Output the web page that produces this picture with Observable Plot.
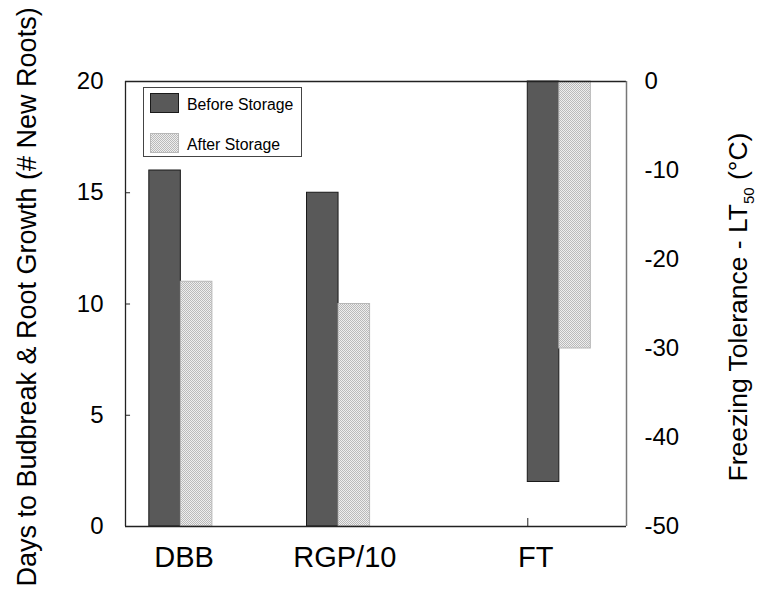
<!DOCTYPE html>
<html><head><meta charset="utf-8">
<script src="https://cdn.jsdelivr.net/npm/d3@7"></script>
<script src="https://cdn.jsdelivr.net/npm/@observablehq/plot@0.6"></script>
<style>body{margin:0;background:#fff;} svg{font-family:"Liberation Sans",Arial,sans-serif;}</style>
</head><body><div id="chart"></div>
<script>
const categories = ["DBB", "RGP/10", "FT"];
const groupPos = [1, 2, 3.4];          // group centres along x
const labelPos = [1.02, 2.04, 3.25];   // category label positions
const ftTickPos = [3.2];               // the single bottom tick
const series = ["Before Storage", "After Storage"];
const beforeVals = [16, 15, null];     // left axis (days / roots/10)
const afterVals = [11, 10, null];
const ftBefore = -45;                  // right axis LT50 (°C)
const ftAfter = -30;
const leftTicks = [0, 5, 10, 15, 20];
const rightTicks = [0, -10, -20, -30, -40, -50];

const xMin = 0.649, xMax = 3.826;
const toLeft = t => (t + 50) * 20 / 50;
const bw = 0.2;
const before = [], after = [];
categories.forEach((c, i) => {
  if (c === "FT") {
    before.push({x1: groupPos[i] - bw, x2: groupPos[i], y1: toLeft(ftBefore), y2: 20});
    after.push({x1: groupPos[i], x2: groupPos[i] + bw, y1: toLeft(ftAfter), y2: 20});
  } else {
    before.push({x1: groupPos[i] - bw, x2: groupPos[i], y1: 0, y2: beforeVals[i]});
    after.push({x1: groupPos[i], x2: groupPos[i] + bw, y1: 0, y2: afterVals[i]});
  }
});

const plot = Plot.plot({
  width: 757, height: 592,
  marginLeft: 125, marginRight: 131, marginTop: 81, marginBottom: 66,
  x: {domain: [xMin, xMax], axis: null},
  y: {domain: [0, 20], axis: null},
  marks: [
    Plot.rect(before, {x1: "x1", x2: "x2", y1: "y1", y2: "y2", fill: "#595959", stroke: "#1a1a1a", strokeWidth: 1}),
    Plot.rect(after, {x1: "x1", x2: "x2", y1: "y1", y2: "y2", fill: "#d5d5d5", stroke: "#b8b8b8", strokeWidth: 1, className: "after-bars"}),
    // frame
    Plot.ruleY([0], {stroke: "#222", strokeWidth: 1.3}),
    Plot.ruleY([20], {stroke: "#222", strokeWidth: 1.3}),
    Plot.ruleX([xMin], {stroke: "#222", strokeWidth: 1.3}),
    Plot.ruleX([xMax], {stroke: "#777", strokeWidth: 1.5}),
    // left ticks (inward)
    Plot.ruleY(leftTicks, {x1: xMin, x2: xMin + 0.032, stroke: "#222", strokeWidth: 1}),
    Plot.axisY({ticks: leftTicks, tickSize: 0, tickPadding: 22, fontSize: 24, anchor: "left", label: null}),
    // right axis
    Plot.axisY({ticks: rightTicks.map(toLeft), tickFormat: d => String(Math.round(d * 2.5 - 50)),
      anchor: "right", tickSize: 0, tickPadding: 18, fontSize: 24, label: null}),
    // bottom tick at FT
    Plot.ruleX(ftTickPos, {y1: 0, y2: 0.36, stroke: "#222", strokeWidth: 1}),
    // category labels
    Plot.text(categories, {x: (d, i) => labelPos[i], y: 0, dy: 31, fontSize: 29, fill: "#000", text: d => d}),
  ]
});

const svg = d3.select(plot);
svg.style("overflow", "visible");
const defs = svg.insert("defs", ":first-child");
const pat = defs.append("pattern").attr("id", "chk").attr("width", 2).attr("height", 2)
  .attr("patternUnits", "userSpaceOnUse");
pat.append("rect").attr("width", 2).attr("height", 2).attr("fill", "#eeeeee");
pat.append("rect").attr("width", 1).attr("height", 1).attr("fill", "#bababa");
pat.append("rect").attr("x", 1).attr("y", 1).attr("width", 1).attr("height", 1).attr("fill", "#bababa");
svg.selectAll(".after-bars").attr("fill", "url(#chk)");
svg.selectAll(".after-bars rect").attr("fill", "url(#chk)");

// legend
const lg = svg.append("g").attr("text-anchor", "start");
const lgFill = ["#595959", "url(#chk)"], lgStroke = ["#1a1a1a", "#b8b8b8"];
lg.append("rect").attr("x", 143.5).attr("y", 87.5).attr("width", 158).attr("height", 69)
  .attr("fill", "#fff").attr("stroke", "#444").attr("stroke-width", 1);
series.forEach((s, i) => {
  lg.append("rect").attr("x", 150.5).attr("y", 93.5 + i * 40).attr("width", 28).attr("height", 19)
    .attr("fill", lgFill[i]).attr("stroke", lgStroke[i]);
  lg.append("text").attr("x", 187).attr("y", 104.5 + i * 40).attr("dy", "0.35em")
    .attr("font-size", 15.8).attr("fill", "#000").text(s);
});

// axis titles
svg.append("text").attr("transform", "translate(27,297) rotate(-90)").attr("text-anchor", "middle")
  .attr("dy", "0.35em").attr("font-size", 27).attr("fill", "#000").text("Days to Budbreak & Root Growth (# New Roots)");
const rt = svg.append("text").attr("transform", "translate(738,307) rotate(-90)").attr("text-anchor", "middle")
  .attr("dy", "0.35em").attr("font-size", 26.5).attr("fill", "#000");
rt.append("tspan").text("Freezing Tolerance - LT");
rt.append("tspan").attr("font-size", 15).attr("dy", 7).text("50");
rt.append("tspan").attr("dy", -7).text(" (°C)");

document.getElementById("chart").appendChild(plot);
</script></body></html>
